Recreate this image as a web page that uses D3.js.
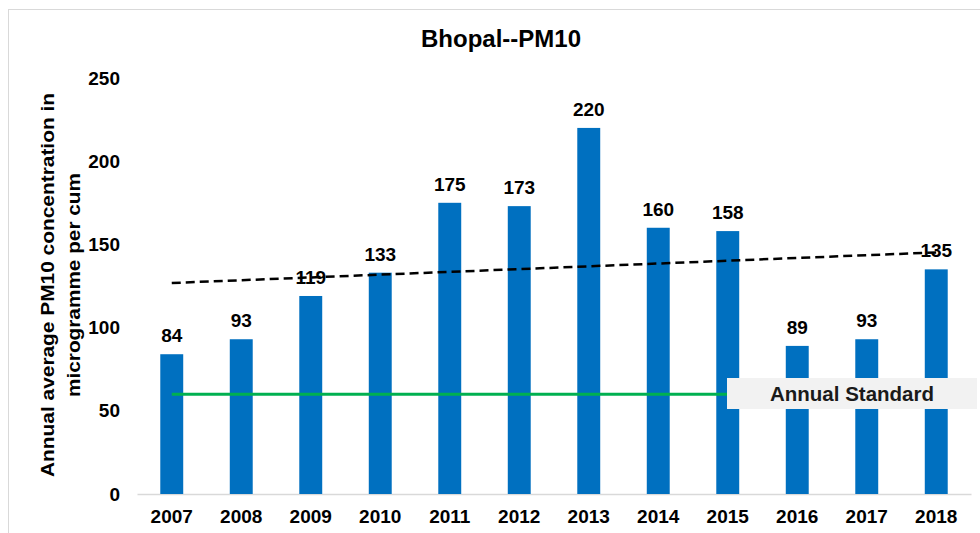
<!DOCTYPE html>
<html><head><meta charset="utf-8">
<script src="https://cdn.jsdelivr.net/npm/d3@7"></script>
<style>body{margin:0;background:#fff}svg{display:block;font-family:"Liberation Sans",Arial,sans-serif}</style>
</head><body><svg id="c" width="980" height="533"></svg>
<script>
const years = ["2007","2008","2009","2010","2011","2012","2013","2014","2015","2016","2017","2018"];
const pm10 = [84,93,119,133,175,173,220,160,158,89,93,135];
const yTicks = [0,50,100,150,200,250];
const standard = 60;
const title = "Bhopal--PM10";
const yTitle = ["Annual average PM10 concentration in","microgramme per cum"];
const standardLabel = "Annual Standard";

const svg = d3.select("#c");
const x = d3.scaleBand().domain(years).range([137,971]).paddingInner(0.67).paddingOuter(0.335);
const y = d3.scaleLinear().domain([0,250]).range([494,78]);
const FF = "Liberation Sans, Arial, sans-serif";

// border
svg.append("rect").attr("x",8.5).attr("y",9.5).attr("width",990).attr("height",540)
  .attr("fill","none").attr("stroke","#d9d9d9").attr("stroke-width",1);

svg.append("text").attr("x",501).attr("y",47).attr("text-anchor","middle")
  .attr("font-size",24).attr("font-weight","bold").text(title);

// y axis
const ya = svg.append("g").attr("transform","translate(137,0)")
  .call(d3.axisLeft(y).tickValues(yTicks).tickSize(0).tickPadding(17));
ya.select(".domain").remove();
ya.selectAll("text").attr("font-size",19).attr("font-weight","bold").attr("fill","#000")
  .attr("font-family",FF);

// x axis
const xa = svg.append("g").attr("transform","translate(0,494)")
  .call(d3.axisBottom(x).tickSize(0));
xa.select(".domain").attr("stroke","#d9d9d9").attr("stroke-width",1.5);
xa.selectAll("text").attr("font-size",19).attr("font-weight","bold").attr("fill","#000")
  .attr("font-family",FF).attr("dy",null).attr("y",29);

// y title
const yt = svg.append("text").attr("transform","translate(0,285) rotate(-90)")
  .attr("text-anchor","middle").attr("font-size",19).attr("font-weight","bold");
yt.append("tspan").attr("x",0).attr("y",54).attr("textLength",384).attr("lengthAdjust","spacingAndGlyphs").text(yTitle[0]);
yt.append("tspan").attr("x",0).attr("y",80).attr("textLength",224).attr("lengthAdjust","spacingAndGlyphs").text(yTitle[1]);

// bars
svg.selectAll("rect.bar").data(years).join("rect").attr("class","bar")
  .attr("x",d=>x(d)).attr("width",x.bandwidth())
  .attr("y",(d,i)=>y(pm10[i])).attr("height",(d,i)=>y(0)-y(pm10[i]))
  .attr("fill","#0070c0");

// standard line
svg.append("line").attr("x1",x(years[0])+x.bandwidth()/2).attr("x2",x(years[11])+x.bandwidth()/2)
  .attr("y1",y(standard)).attr("y2",y(standard)).attr("stroke","#00b050").attr("stroke-width",3);

// linear trendline (least squares)
const n = pm10.length, mx = (n+1)/2, my = d3.mean(pm10);
let sxy=0,sxx=0; pm10.forEach((v,i)=>{sxy+=(i+1-mx)*(v-my);sxx+=(i+1-mx)**2;});
const slope = sxy/sxx, icpt = my - slope*mx;
svg.append("line")
  .attr("x1",x(years[0])+x.bandwidth()/2).attr("y1",y(icpt+slope*1))
  .attr("x2",x(years[n-1])+x.bandwidth()/2).attr("y2",y(icpt+slope*n))
  .attr("stroke","#000").attr("stroke-width",2.5).attr("stroke-dasharray","9,5");

// value labels
svg.selectAll("text.val").data(years).join("text").attr("class","val")
  .attr("x",d=>x(d)+x.bandwidth()/2).attr("y",(d,i)=>y(pm10[i])-12)
  .attr("text-anchor","middle").attr("font-size",19).attr("font-weight","bold")
  .text((d,i)=>pm10[i]);

// standard label
svg.append("rect").attr("x",727).attr("y",378).attr("width",250).attr("height",31).attr("fill","#f2f2f2");
svg.append("text").attr("x",852).attr("y",401).attr("text-anchor","middle")
  .attr("font-size",20.5).attr("font-weight","bold").attr("fill","#1a1a1a").text(standardLabel);
</script></body></html>
